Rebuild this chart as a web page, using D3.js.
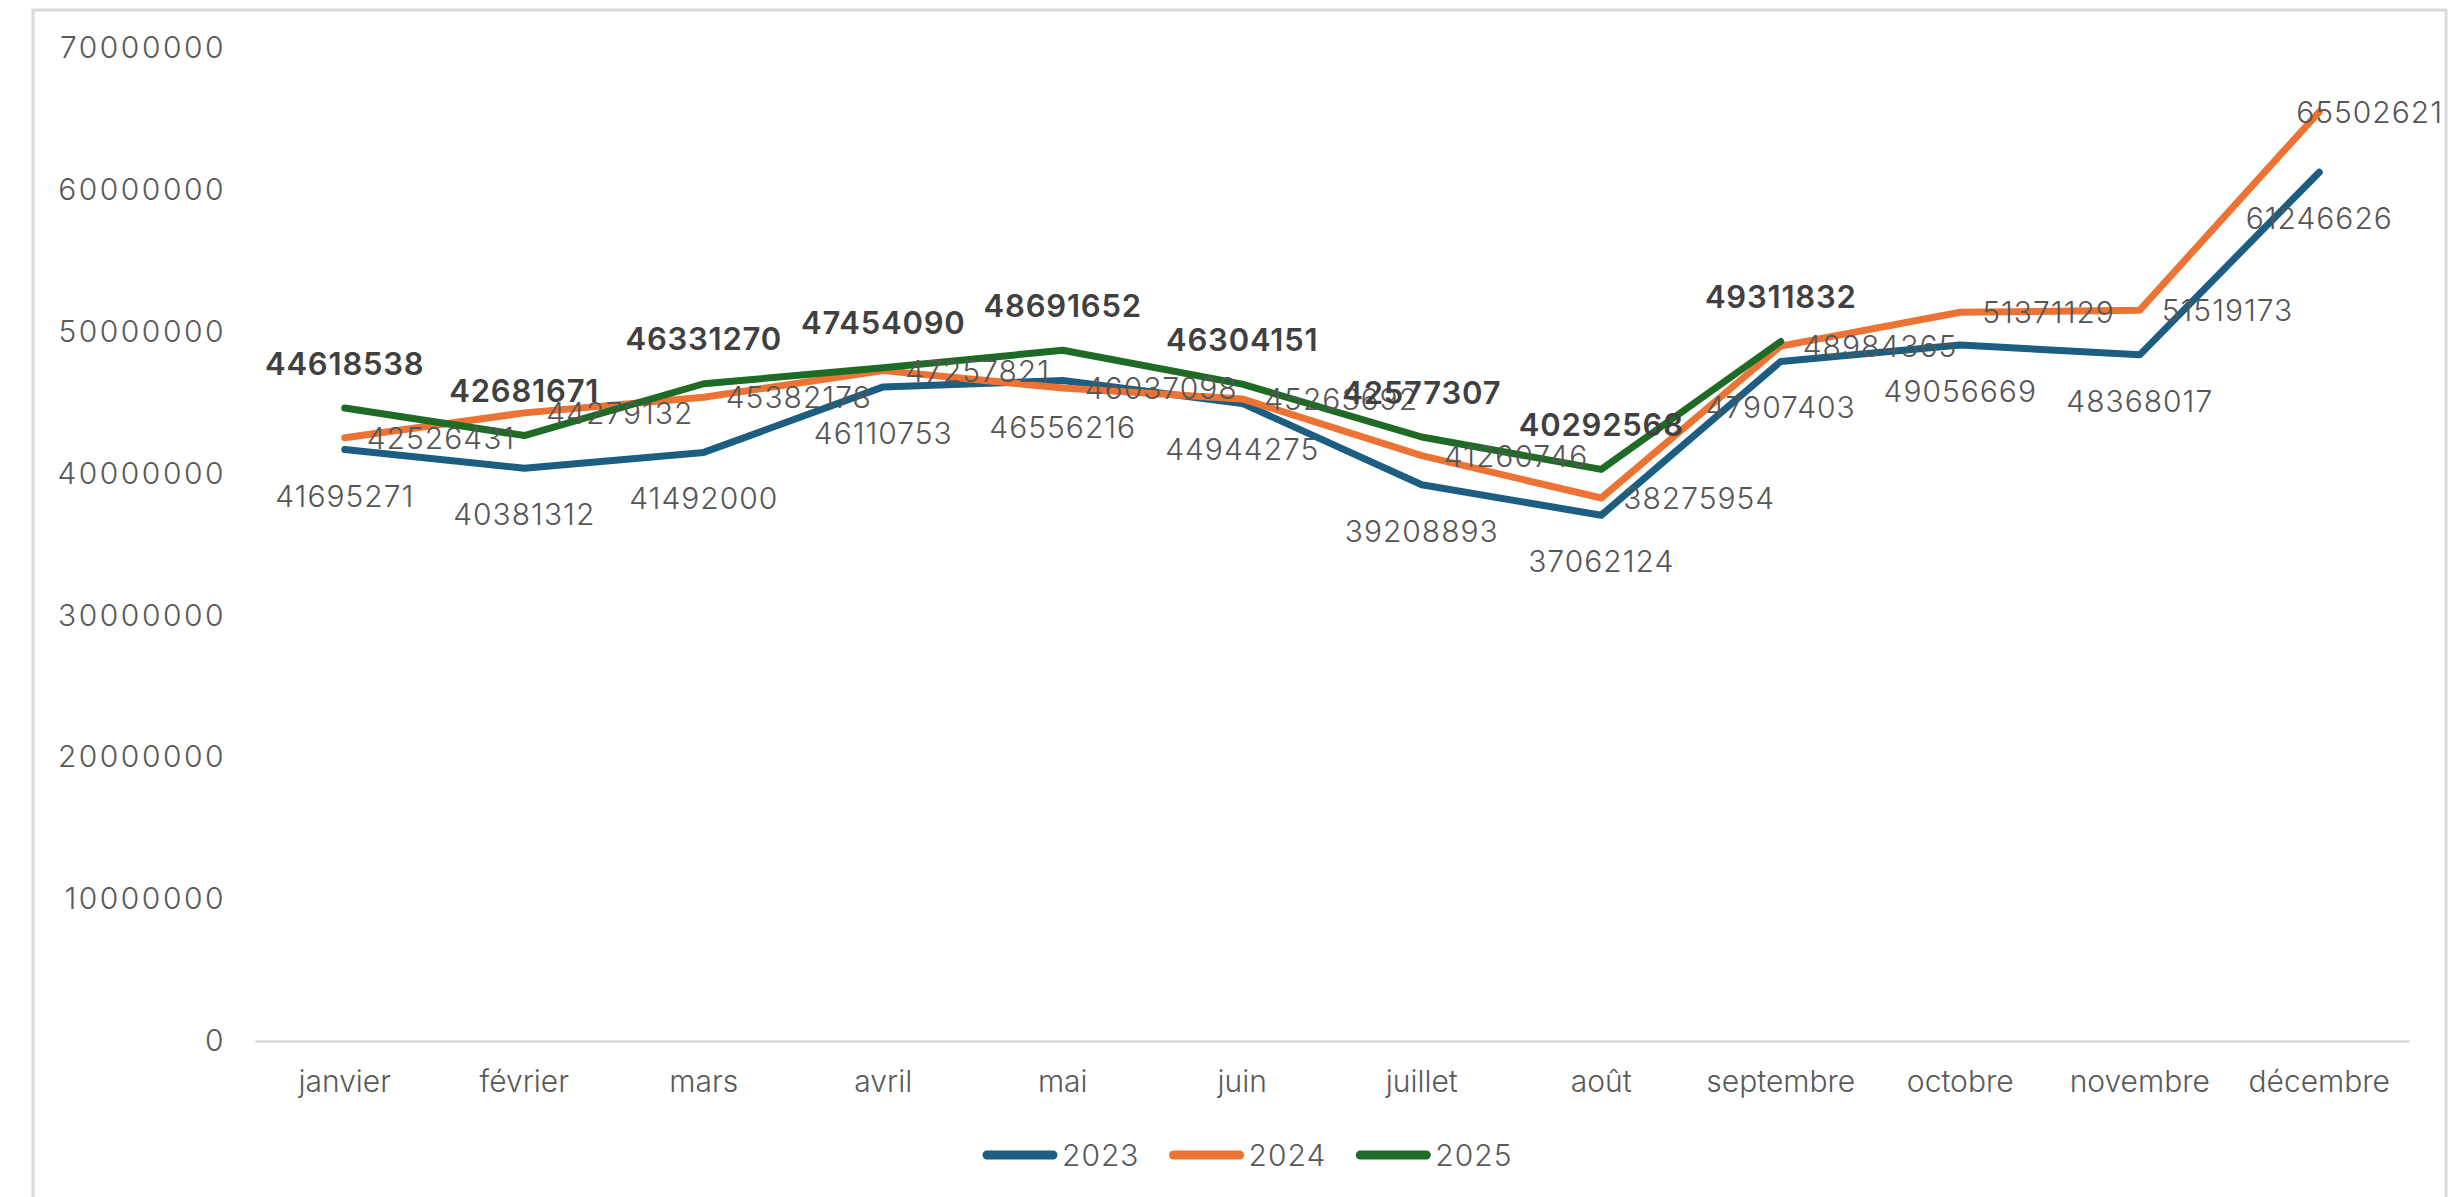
<!DOCTYPE html>
<html>
<head>
<meta charset="utf-8">
<script src="https://cdn.jsdelivr.net/npm/d3@7"></script>
<style>
  html, body { margin: 0; padding: 0; background: #fff; }
  svg { display: block; }
  text { font-family: Inter, Lato, "Noto Sans", sans-serif; }
</style>
</head>
<body>
<script>
// data
const months = ['janvier', 'février', 'mars', 'avril', 'mai', 'juin', 'juillet', 'août', 'septembre', 'octobre', 'novembre', 'décembre'];
const yTicks = [0, 10000000, 20000000, 30000000, 40000000, 50000000, 60000000, 70000000];
const years = ['2023', '2024', '2025'];
const values2023 = [41695271, 40381312, 41492000, 46110753, 46556216, 44944275, 39208893, 37062124, 47907403, 49056669, 48368017, 61246626];
const values2024 = [42526431, 44279132, 45382178, 47257821, 46037098, 45263692, 41260746, 38275954, 48984365, 51371129, 51519173, 65502621];
const values2025 = [44618538, 42681671, 46331270, 47454090, 48691652, 46304151, 42577307, 40292568, 49311832];

const colors = { '2023': '#1b5e81', '2024': '#ec7333', '2025': '#1e6b25' };

const drawViz = () => {
  const width = 2458, height = 1197;
  const plot = { left: 255, right: 2409, top: 48, bottom: 1041 };

  d3.select('body').selectAll('svg').remove();

  const svg = d3.select('body')
    .append('svg')
    .attr('width', width)
    .attr('height', height);

  svg.append('rect')
    .attr('width', width).attr('height', height)
    .attr('fill', '#fff');

  // outer frame
  svg.append('rect')
    .attr('x', 33).attr('y', 10)
    .attr('width', 2413).attr('height', 1250)
    .attr('fill', 'none')
    .attr('stroke', '#d9d9d9')
    .attr('stroke-width', 3);

  const x = d3.scaleBand().domain(months).range([plot.left, plot.right]);
  const y = d3.scaleLinear().domain([0, 70000000]).range([plot.bottom, plot.top]);
  const cx = (m) => x(m) + x.bandwidth() / 2;

  // y axis labels (no axis line)
  const yAxis = svg.append('g')
    .attr('transform', `translate(${plot.left}, 0)`)
    .call(d3.axisLeft(y).tickValues(yTicks).tickFormat(d3.format('d')).tickSize(0).tickPadding(29));
  yAxis.select('.domain').remove();
  yAxis.selectAll('text')
    .attr('fill', '#595959')
    .style('font-size', '30px')
    .style('font-weight', 300)
    .style('letter-spacing', '2.5px');

  // x axis
  const xAxis = svg.append('g')
    .attr('transform', `translate(0, ${plot.bottom})`)
    .call(d3.axisBottom(x).tickSize(0).tickPadding(30));
  xAxis.select('.domain')
    .attr('stroke', '#d9d9d9')
    .attr('stroke-width', 2.5);
  xAxis.selectAll('text')
    .attr('fill', '#595959')
    .style('font-size', '30px')
    .style('font-weight', 300);

  const series = [
    { year: '2023', values: values2023, pos: 'below', bold: false },
    { year: '2024', values: values2024, pos: 'right', bold: false },
    { year: '2025', values: values2025, pos: 'above', bold: true }
  ];

  const line = d3.line()
    .x((d, i) => cx(months[i]))
    .y((d) => y(d));

  svg.append('g')
    .selectAll('path')
    .data(series)
    .enter()
    .append('path')
    .attr('d', (s) => line(s.values))
    .attr('fill', 'none')
    .attr('stroke', (s) => colors[s.year])
    .attr('stroke-width', 7)
    .attr('stroke-linejoin', 'round')
    .attr('stroke-linecap', 'round');

  // data labels
  series.forEach((s) => {
    const g = svg.append('g');
    s.values.forEach((v, i) => {
      const px = cx(months[i]);
      const py = y(v);
      const t = g.append('text')
        .text(v)
        .attr('fill', s.bold ? '#404040' : '#555555')
        .style('font-size', s.bold ? '31px' : '30px')
        .style('font-weight', s.bold ? 600 : 300)
        .style('letter-spacing', s.bold ? '0.8px' : '1px')
        .attr('dominant-baseline', 'central');
      if (s.pos === 'below') {
        t.attr('x', px).attr('y', py + 46).attr('text-anchor', 'middle');
      } else if (s.pos === 'above') {
        t.attr('x', px).attr('y', py - 45).attr('text-anchor', 'middle');
      } else {
        let lx = px + 22;
        const w = t.node().getComputedTextLength();
        if (lx + w > 2443) lx = 2443 - w;
        t.attr('x', lx).attr('y', py).attr('text-anchor', 'start');
      }
    });
  });

  // legend
  const legend = svg.append('g').attr('transform', 'translate(0, 1155)');
  let lx = 983;
  years.forEach((yr) => {
    legend.append('line')
      .attr('x1', lx + 4).attr('x2', lx + 70)
      .attr('y1', 0).attr('y2', 0)
      .attr('stroke', colors[yr])
      .attr('stroke-width', 9)
      .attr('stroke-linecap', 'round');
    const t = legend.append('text')
      .attr('x', lx + 79)
      .attr('y', 0)
      .attr('dominant-baseline', 'central')
      .attr('fill', '#595959')
      .style('font-size', '30px')
      .style('font-weight', 300)
      .style('letter-spacing', '1px')
      .text(yr);
    lx += 79 + t.node().getComputedTextLength() + 30;
  });
};

drawViz();
</script>
</body>
</html>
